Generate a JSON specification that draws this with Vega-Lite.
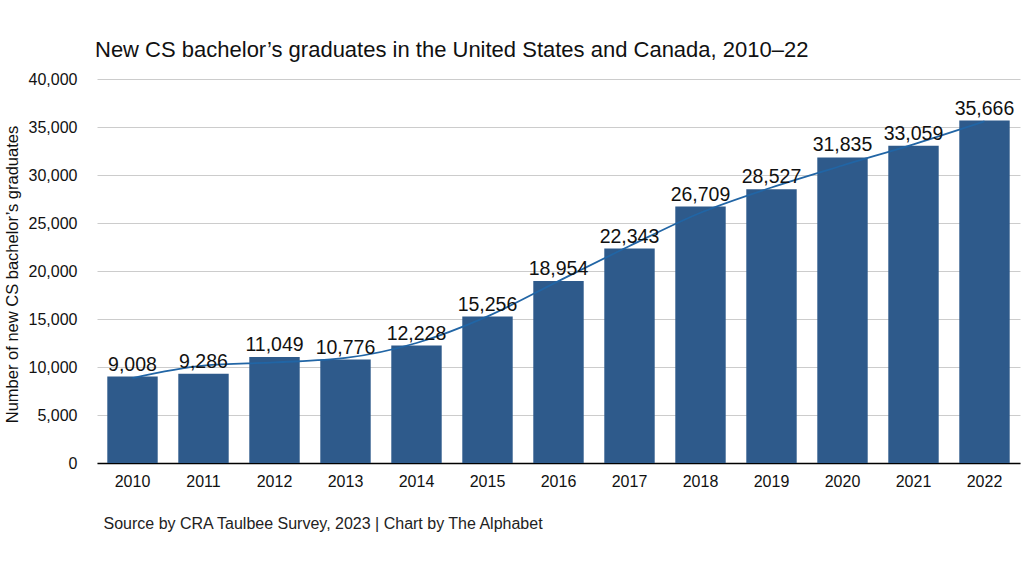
{
  "$schema": "https://vega.github.io/schema/vega-lite/v6.json",
  "autosize": {"type": "none"},
  "padding": {"left": 97, "top": 79, "right": 4, "bottom": 113},
  "width": 923,
  "height": 384,
  "background": "white",
  "config": {
    "font": "Liberation Sans",
    "view": {"stroke": null},
    "axisY": {
      "labelExpr": "format(datum.value, ',')",
      "labelFontSize": 16,
      "labelColor": "#111111",
      "labelPadding": 20,
      "ticks": false,
      "domain": false,
      "grid": true,
      "gridColor": "#cccccc",
      "gridWidth": 1,
      "titleFontSize": 16.5,
      "titleFontWeight": "normal",
      "titleColor": "#111111",
      "titleAngle": 270,
      "titleAlign": "center",
      "titleBaseline": "middle",
      "titleX": -85,
      "titleY": 195
    }
  },
  "title": {
    "text": "New CS bachelor’s graduates in the United States and Canada, 2010–22",
    "anchor": "start",
    "frame": "group",
    "baseline": "alphabetic",
    "offset": 22,
    "dx": -2,
    "dy": 30,
    "fontSize": 22,
    "fontWeight": "normal",
    "color": "#111111",
    "font": "Liberation Sans"
  },
  "data": {
    "values": [
      {"year": "2010", "value": 9008, "trend": 8850},
      {"year": "2011", "value": 9286, "trend": 10140},
      {"year": "2012", "value": 11049, "trend": 10480},
      {"year": "2013", "value": 10776, "trend": 10940},
      {"year": "2014", "value": 12228, "trend": 12500},
      {"year": "2015", "value": 15256, "trend": 15270},
      {"year": "2016", "value": 18954, "trend": 18950},
      {"year": "2017", "value": 22343, "trend": 22600},
      {"year": "2018", "value": 26709, "trend": 26070},
      {"year": "2019", "value": 28527, "trend": 28700},
      {"year": "2020", "value": 31835, "trend": 30990},
      {"year": "2021", "value": 33059, "trend": 33190},
      {"year": "2022", "value": 35666, "trend": 35580}
    ]
  },
  "encoding": {
    "x": {
      "field": "year",
      "type": "ordinal",
      "scale": {"paddingInner": 0.29, "paddingOuter": 0.145},
      "axis": {
        "labelAngle": 0,
        "labelFontSize": 16,
        "labelColor": "#111111",
        "labelPadding": 10,
        "ticks": false,
        "domainColor": "#000000",
        "domainWidth": 1.5,
        "grid": false,
        "title": "Source by CRA Taulbee Survey, 2023 | Chart by The Alphabet",
        "titleFontSize": 16,
        "titleFontWeight": "normal",
        "titleColor": "#222222",
        "titleAlign": "left",
        "titleBaseline": "alphabetic",
        "titleX": 6,
        "titleY": 65
      }
    }
  },
  "layer": [
    {
      "mark": {"type": "bar", "color": "#2e5a8b"},
      "encoding": {
        "y": {
          "field": "value",
          "type": "quantitative",
          "title": "Number of new CS bachelor’s graduates",
          "scale": {"domain": [0, 40000]},
          "axis": {"values": [0, 5000, 10000, 15000, 20000, 25000, 30000, 35000, 40000]}
        }
      }
    },
    {
      "mark": {"type": "line", "color": "#2165a5", "strokeWidth": 1.8, "interpolate": "monotone"},
      "encoding": {
        "y": {
          "field": "trend",
          "type": "quantitative",
          "title": "Number of new CS bachelor’s graduates",
          "axis": {"values": [0, 5000, 10000, 15000, 20000, 25000, 30000, 35000, 40000]}
        }
      }
    },
    {
      "mark": {"type": "text", "baseline": "alphabetic", "dy": -6, "fontSize": 19.5, "color": "#111111"},
      "encoding": {
        "y": {
          "field": "value",
          "type": "quantitative",
          "title": "Number of new CS bachelor’s graduates",
          "axis": {"values": [0, 5000, 10000, 15000, 20000, 25000, 30000, 35000, 40000]}
        },
        "text": {"field": "value", "type": "quantitative", "format": ","}
      }
    }
  ]
}
